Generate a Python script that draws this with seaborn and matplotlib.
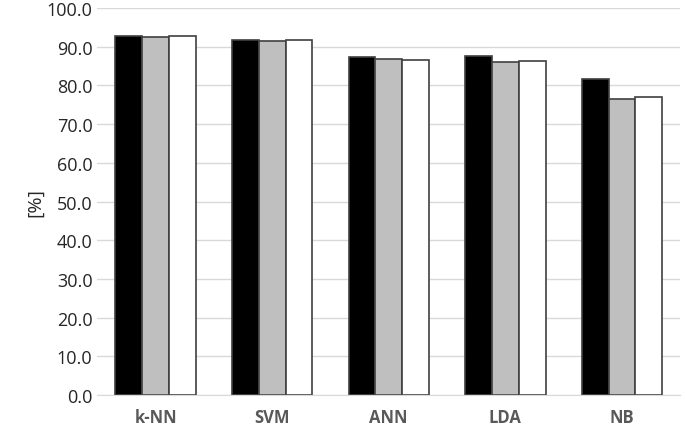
import pandas as pd
import matplotlib.pyplot as plt
import seaborn as sns

# values
methods = ["k-NN", "SVM", "ANN", "LDA", "NB"]
series = ["Series 1", "Series 2", "Series 3"]
s1 = [92.8, 91.8, 87.4, 87.7, 81.6]
s2 = [92.6, 91.4, 86.9, 86.0, 76.6]
s3 = [92.8, 91.7, 86.6, 86.3, 77.0]
yticks = [0, 10, 20, 30, 40, 50, 60, 70, 80, 90, 100]

df = pd.DataFrame({"method": methods * 3,
                   "series": [s for s in series for _ in methods],
                   "value": s1 + s2 + s3})

sns.set_style("white")
plt.rcParams['font.family'] = ['Open Sans', 'DejaVu Sans']

fig = plt.figure(figsize=(6.85, 4.31), dpi=100)
ax = fig.add_axes([0.142, 0.081, 0.851, 0.898])

sns.barplot(data=df, x="method", y="value", hue="series", order=methods,
            hue_order=series, palette=["#000000", "#bfbfbf", "#ffffff"],
            edgecolor="#404040", linewidth=1.2, width=0.69, legend=False, ax=ax)

ax.set_ylim(0, 100)
ax.set_xlim(-0.5, 4.5)
ax.set_yticks(yticks)
ax.set_yticklabels([f"{v:.1f}" for v in yticks], fontsize=13, color="#262626")
ax.yaxis.grid(True, color="#d9d9d9", linewidth=1)
ax.set_axisbelow(True)
ax.tick_params(length=0)
for lbl in ax.get_xticklabels():
    lbl.set_fontweight("bold")
    lbl.set_color("#595959")
    lbl.set_fontsize(12)
ax.tick_params(axis="x", pad=9)
ax.set_xlabel("")
ax.set_ylabel("[%]", fontsize=14, color="#262626", labelpad=2)
for side in ["top", "right", "left"]:
    ax.spines[side].set_visible(False)
ax.spines["bottom"].set_color("#d9d9d9")

plt.savefig("out.png", dpi=100)
